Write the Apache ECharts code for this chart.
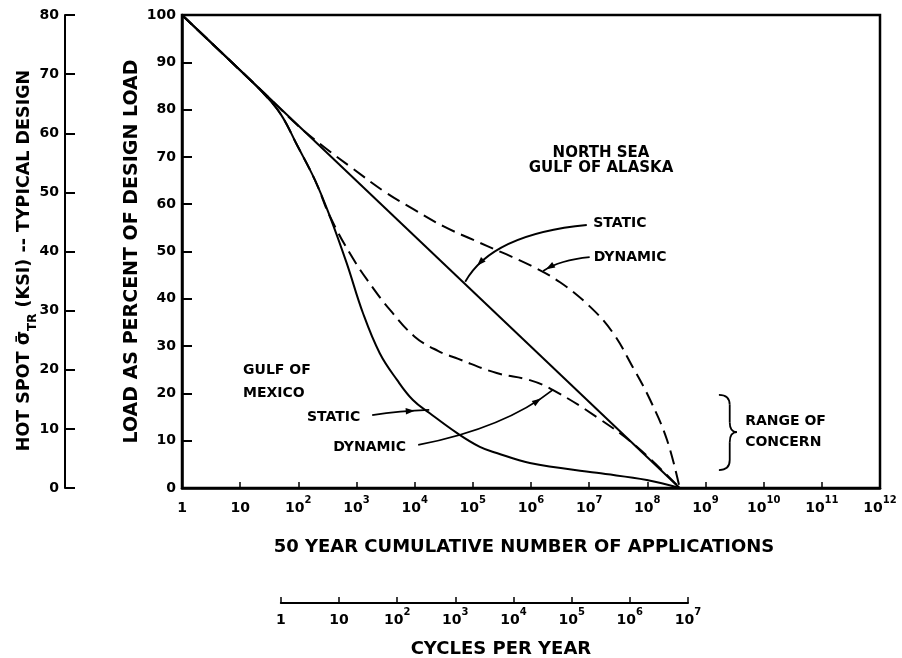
<!DOCTYPE html>
<html>
<head>
<meta charset="utf-8">
<script src="https://cdn.jsdelivr.net/npm/echarts@6/dist/echarts.min.js"></script>
<style>
  html, body { margin: 0; padding: 0; background: #fff; }
  #chart { width: 902px; height: 658px; }
</style>
</head>
<body>
<div id="chart"></div>
<script>
// ---- Data: 50-year cumulative number of applications vs. load (% of design load) ----

// North Sea / Gulf of Alaska, static
const nsStaticN    = [1, 3.6e8];
const nsStaticLoad = [100, 0];

// North Sea / Gulf of Alaska, dynamic
const nsDynamicN    = [1, 10, 24.5, 95, 263, 871, 3160, 9330, 31600, 1e5, 316000, 1e6, 3.16e6, 1e7, 2.5e7, 5.6e7, 1.12e8, 2.19e8, 3.6e8];
const nsDynamicLoad = [100, 88.3, 83.8, 76.8, 72.3, 67.5, 62.5, 59, 55.3, 52.5, 49.8, 47, 43.5, 38.5, 33, 25.6, 18.6, 10.1, 0];

// Gulf of Mexico, static
const gmStaticN    = [1, 10, 24.5, 50, 95, 195, 347, 676, 1290, 2510, 5010, 9330, 18200, 53700, 132000, 257000, 955000, 1.35e7, 9.8e7, 3.6e8];
const gmStaticLoad = [100, 88.3, 83.6, 79, 72.5, 65, 57.5, 47.6, 37, 28.5, 22.8, 18.6, 15.8, 11.6, 8.7, 7.4, 5.3, 3.2, 1.7, 0];

// Gulf of Mexico, dynamic
const gmDynamicN    = [1, 10, 24.5, 50, 95, 195, 347, 871, 2000, 3800, 1e4, 25100, 56200, 257000, 955000, 2.4e6, 1.35e7, 6.6e7, 3.6e8];
const gmDynamicLoad = [100, 88.3, 83.6, 79, 72.5, 65, 57.5, 48.5, 42, 37.6, 32, 29, 27.3, 24.3, 22.8, 20.7, 15, 8.7, 0];

// Axis ranges
const loadRange    = [0, 100];   // percent of design load
const stressRange  = [0, 80];    // hot spot stress, ksi
const applRange    = [1, 1e12];  // cumulative applications
const cyclesRange  = [1, 1e7];   // cycles per year
const designYears  = 50;

// ---- Layout ----
const FONT = '"DejaVu Sans", sans-serif';
const plotLeft = 182, plotRight = 880, plotTop = 15, plotBottom = 488;
const decadePx = (plotRight - plotLeft) / Math.log10(applRange[1] / applRange[0]);
const cyclesLeft = plotLeft + Math.log10(designYears) * decadePx;
const cyclesWidth = Math.log10(cyclesRange[1] / cyclesRange[0]) * decadePx;
const cyclesAxisY = 603;

function zip(xs, ys) { return xs.map((x, i) => [x, ys[i]]); }

function powerLabel(v) {
  const e = Math.round(Math.log10(v));
  if (e === 0) return '{b|1}';
  if (e === 1) return '{b|10}';
  return '{b|10}{s|' + e + '}';
}
const powerRich = {
  b: { fontSize: 14, fontWeight: 'bold', fontFamily: FONT, color: '#000', lineHeight: 20, verticalAlign: 'bottom' },
  s: { fontSize: 10, fontWeight: 'bold', fontFamily: FONT, color: '#000', lineHeight: 9, verticalAlign: 'top' }
};

const axisLineBlack = (w) => ({ show: true, lineStyle: { color: '#000', width: w } });
const nameStyle = { fontSize: 18, fontWeight: 'bold', fontFamily: FONT, color: '#000' };

function curve(name, xs, ys, dashed) {
  return {
    name, type: 'line', xAxisIndex: 0, yAxisIndex: 0,
    data: zip(xs, ys), showSymbol: false, symbol: 'none',
    smooth: 0.4,
    lineStyle: { color: '#000', width: 2, type: dashed ? [14, 7] : 'solid' },
    silent: true, z: 3
  };
}

const chart = echarts.init(document.getElementById('chart'), null, { renderer: 'canvas' });

const option = {
  backgroundColor: '#fff',
  animation: false,
  grid: [
    { left: plotLeft, top: plotTop, width: plotRight - plotLeft, height: plotBottom - plotTop,
      outerBoundsMode: 'none', containLabel: false,
      show: true, borderColor: '#000', borderWidth: 2.5, backgroundColor: 'transparent' },
    { left: cyclesLeft, top: cyclesAxisY - 1, width: cyclesWidth, height: 1,
      outerBoundsMode: 'none', containLabel: false, show: false }
  ],
  xAxis: [
    {
      gridIndex: 0, type: 'log', logBase: 10, min: applRange[0], max: applRange[1], interval: 1,
      axisLine: axisLineBlack(2.5),
      axisTick: { show: true, inside: true, length: 6, lineStyle: { color: '#000', width: 1.5 } },
      axisLabel: { margin: 7, formatter: powerLabel, rich: powerRich },
      splitLine: { show: false }, minorTick: { show: false },
      name: '50 YEAR CUMULATIVE NUMBER OF APPLICATIONS',
      nameLocation: 'middle', nameGap: 50,
      nameTextStyle: Object.assign({ padding: [0, 14, 0, 0] }, nameStyle)
    },
    {
      gridIndex: 1, type: 'log', logBase: 10, min: cyclesRange[0], max: cyclesRange[1], interval: 1,
      position: 'bottom',
      axisLine: axisLineBlack(2),
      axisTick: { show: true, inside: true, length: 6, lineStyle: { color: '#000', width: 1.5 } },
      axisLabel: { margin: 4, formatter: powerLabel, rich: powerRich },
      splitLine: { show: false },
      name: 'CYCLES PER YEAR', nameLocation: 'middle', nameGap: 37,
      nameTextStyle: Object.assign({ padding: [0, 0, 0, 33] }, nameStyle)
    }
  ],
  yAxis: [
    {
      gridIndex: 0, type: 'value', min: loadRange[0], max: loadRange[1], interval: 10, position: 'left',
      axisLine: axisLineBlack(2.5),
      axisTick: { show: true, inside: true, length: 10, lineStyle: { color: '#000', width: 2 } },
      axisLabel: { margin: 6, color: '#000', fontSize: 14, fontWeight: 'bold', fontFamily: FONT },
      splitLine: { show: false },
      name: 'LOAD AS PERCENT OF DESIGN LOAD', nameLocation: 'middle', nameRotate: 90, nameGap: 40,
      nameMoveOverlap: false,
      nameTextStyle: Object.assign({}, nameStyle, { fontSize: 19 })
    },
    {
      gridIndex: 0, type: 'value', min: stressRange[0], max: stressRange[1], interval: 10,
      position: 'left', offset: plotLeft - 65,
      axisLine: axisLineBlack(2),
      axisTick: { show: true, inside: true, length: 10, lineStyle: { color: '#000', width: 2 } },
      axisLabel: { margin: 6, color: '#000', fontSize: 14, fontWeight: 'bold', fontFamily: FONT },
      splitLine: { show: false },
      name: '{n|HOT SPOT }{g|σ̄}{t|TR}{n| (KSI) -- TYPICAL DESIGN}',
      nameLocation: 'middle', nameRotate: 90, nameGap: 26,
      nameMoveOverlap: false,
      nameTextStyle: {
        padding: [0, 18, 0, 0],
        rich: {
          n: { fontSize: 17.5, fontWeight: 'bold', fontFamily: FONT, color: '#000', lineHeight: 24, verticalAlign: 'top' },
          g: { fontSize: 18.5, fontWeight: 'bold', fontFamily: FONT, color: '#000', lineHeight: 24, verticalAlign: 'top' },
          t: { fontSize: 12, fontWeight: 'bold', fontFamily: FONT, color: '#000', lineHeight: 14, verticalAlign: 'bottom' }
        }
      }
    },
    { gridIndex: 1, type: 'value', show: false, min: 0, max: 1 }
  ],
  series: [
    curve('North Sea static', nsStaticN, nsStaticLoad, false),
    curve('North Sea dynamic', nsDynamicN, nsDynamicLoad, true),
    curve('Gulf of Mexico static', gmStaticN, gmStaticLoad, false),
    curve('Gulf of Mexico dynamic', gmDynamicN, gmDynamicLoad, true)
  ]
};
chart.setOption(option);

// ---- Annotations, anchored in data coordinates (applications, % load) ----
const labels = [
  { text: 'NORTH SEA',      at: [1.6e7, 70.8],  align: 'center', size: 15 },
  { text: 'GULF OF ALASKA', at: [1.6e7, 67.7],  align: 'center', size: 15 },
  { text: 'STATIC',         at: [1.17e7, 56],   align: 'left',   size: 14 },
  { text: 'DYNAMIC',        at: [1.2e7, 48.8],  align: 'left',   size: 14 },
  { text: 'GULF OF',        at: [11.2, 24.9],   align: 'left',   size: 14 },
  { text: 'MEXICO',         at: [11.2, 20.1],   align: 'left',   size: 14 },
  { text: 'STATIC',         at: [141, 15],      align: 'left',   size: 14 },
  { text: 'DYNAMIC',        at: [398, 8.5],     align: 'left',   size: 14 },
  { text: 'RANGE OF',       at: [4.8e9, 14],    align: 'left',   size: 14 },
  { text: 'CONCERN',        at: [4.8e9, 9.7],   align: 'left',   size: 14 }
];

// Leader curves: start, control, end, and where along the curve the arrowhead sits
const leaders = [
  { from: [9.1e6, 55.6], ctrl: [2.14e5, 53.7], to: [7.4e4, 43.6], head: 0.82 },
  { from: [1.02e7, 48.8], ctrl: [3.16e6, 48.2], to: [1.62e6, 45.9], head: 0.92 },
  { from: [1860, 15.4],  ctrl: [5620, 16.3],  to: [17800, 16.5], head: 0.75 },
  { from: [11500, 9.1],  ctrl: [3.55e5, 12.7], to: [2.4e6, 20.8], head: 0.88 }
];

// Brace beside the "range of concern" note
const brace = { top: [1.7e9, 19.7], bottom: [1.7e9, 3.8], tip: [3.47e9, 11.8] };

function px(p) { return chart.convertToPixel({ xAxisIndex: 0, yAxisIndex: 0 }, p); }
function qPoint(a, c, b, t) {
  const u = 1 - t;
  return [u * u * a[0] + 2 * u * t * c[0] + t * t * b[0], u * u * a[1] + 2 * u * t * c[1] + t * t * b[1]];
}
function qTangent(a, c, b, t) {
  return [2 * (1 - t) * (c[0] - a[0]) + 2 * t * (b[0] - c[0]), 2 * (1 - t) * (c[1] - a[1]) + 2 * t * (b[1] - c[1])];
}
function arrowHead(pt, dir, len, half) {
  const m = Math.hypot(dir[0], dir[1]) || 1;
  const ux = dir[0] / m, uy = dir[1] / m;
  const bx = pt[0] - ux * len, by = pt[1] - uy * len;
  return [[pt[0], pt[1]], [bx - uy * half, by + ux * half], [bx + uy * half, by - ux * half]];
}
function qSeg(a, c, b, w) {
  return { type: 'bezierCurve', silent: true, z: 10,
    shape: { x1: a[0], y1: a[1], cpx1: c[0], cpy1: c[1], x2: b[0], y2: b[1] },
    style: { stroke: '#000', lineWidth: w, fill: null } };
}
function lSeg(a, b, w) {
  return { type: 'line', silent: true, z: 10,
    shape: { x1: a[0], y1: a[1], x2: b[0], y2: b[1] },
    style: { stroke: '#000', lineWidth: w } };
}

const elements = [];
labels.forEach(l => {
  const p = px(l.at);
  elements.push({ type: 'text', silent: true, z: 10,
    style: { text: l.text, x: p[0], y: p[1], fill: '#000',
      font: 'bold ' + l.size + 'px ' + FONT, align: l.align, verticalAlign: 'middle' } });
});
leaders.forEach(ld => {
  const a = px(ld.from), c = px(ld.ctrl), b = px(ld.to);
  elements.push(qSeg(a, c, b, 1.8));
  const hp = qPoint(a, c, b, ld.head);
  const hd = qTangent(a, c, b, ld.head);
  elements.push({ type: 'polygon', silent: true, z: 10,
    shape: { points: arrowHead(hp, hd, 9, 3.2) }, style: { fill: '#000' } });
});
(function () {
  const t = px(brace.top), b = px(brace.bottom), k = px(brace.tip);
  const xm = t[0] + 0.6 * (k[0] - t[0]);
  const r = 10, w = 1.8;
  elements.push(qSeg(t, [xm, t[1]], [xm, t[1] + r], w));
  elements.push(lSeg([xm, t[1] + r], [xm, k[1] - r], w));
  elements.push(qSeg([xm, k[1] - r], [xm, k[1]], k, w));
  elements.push(qSeg(k, [xm, k[1]], [xm, k[1] + r], w));
  elements.push(lSeg([xm, k[1] + r], [xm, b[1] - r], w));
  elements.push(qSeg([xm, b[1] - r], [xm, b[1]], b, w));
})();

chart.setOption({ graphic: elements });
</script>
</body>
</html>
